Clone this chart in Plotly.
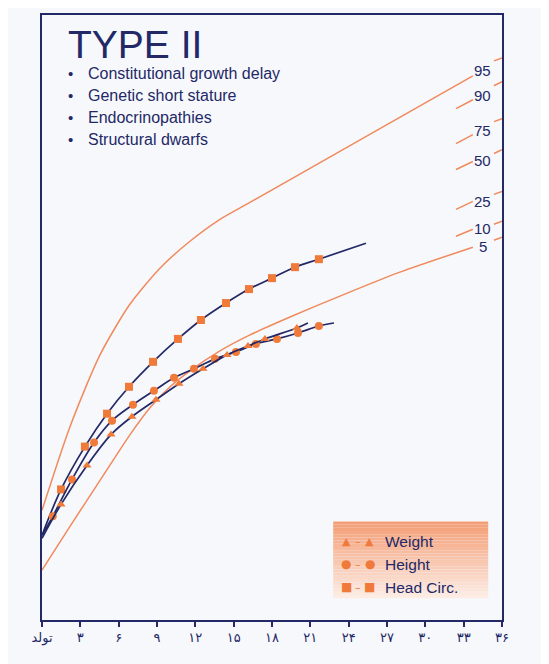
import plotly.graph_objects as go

# ---------------- data ----------------
x_tick_vals = [0, 3, 6, 9, 12, 15, 18, 21, 24, 27, 30, 33, 36]
x_tick_text = ["تولد", "۳", "۶", "۹", "۱۲", "۱۵", "۱۸", "۲۱", "۲۴", "۲۷", "۳۰", "۳۳", "۳۶"]

# percentile reference curves (month, relative size units)
p95_x = [0, 2.19, 4.54, 6.89, 9.23, 11.58, 13.93, 16.28, 23.55, 33.72]
p95_y = [110, 194, 266, 317, 353, 380, 402, 419, 472, 546]
p5_x = [0, 2.19, 4.54, 6.89, 8.45, 10.02, 11.58, 13.93, 16.28, 19.41, 23.32, 28.01, 33.72]
p5_y = [50, 94, 140, 186, 213, 234, 250, 270, 286, 304, 325, 349, 374]

# percentile labels on the right side
pct_labels = ["95", "90", "75", "50", "25", "10", "5"]
pct_label_y = [551, 526, 491, 461, 420, 393, 375]
pct_left_y0 = [None, 513, 478, 452, 412, 385, None]
pct_left_y1 = [None, 522, 487, 460, 420, 392, None]
pct_right_y0 = [561, 536, 500, 468, 427, 397, 381]
pct_right_y1 = [564, 540, 503, 472, 430, 400, 384]

# patient curves: head circumference
head_x = [1.49, 3.36, 5.09, 6.81, 8.69, 10.64, 12.44, 14.40, 16.20, 18.0, 19.8, 21.67]
head_y = [131, 174, 207, 234, 259, 282, 301, 318, 332, 343, 354, 362]
head_start = (0, 85)
head_end = (25.35, 378)

# height
height_x = [0.84, 2.35, 4.07, 5.48, 7.12, 8.76, 10.33, 11.89, 13.54, 15.18, 16.74, 18.39, 20.03, 21.67]
height_y = [104, 141, 178, 200, 216, 230, 243, 252, 262, 269, 277, 282, 288, 295]
height_start = (0, 85)
height_end = (22.85, 298)

# weight
weight_x = [1.49, 3.52, 5.40, 7.04, 8.92, 10.72, 12.60, 14.48, 16.12, 17.45, 19.95]
weight_y = [116, 155, 186, 204, 221, 237, 252, 266, 275, 282, 293]
weight_start = (0, 82)
weight_end = (20.81, 298)

title_text = "TYPE II"
bullets = ["Constitutional growth delay", "Genetic short stature", "Endocrinopathies", "Structural dwarfs"]
legend_names = ["Weight", "Height", "Head Circ."]
legend_symbols = ["▲", "●", "■"]

# ---------------- style ----------------
NAVY = "#232866"
ORANGE_LINE = "#f08a5c"
ORANGE_MK = "#f07a3a"
FONT = "Liberation Sans, Arial, sans-serif"
BG = "#f7f8fc"

fig = go.Figure()

# percentile curves
for xs, ys in [(p95_x, p95_y), (p5_x, p5_y)]:
    fig.add_trace(go.Scatter(x=xs, y=ys, mode="lines",
                             line=dict(color=ORANGE_LINE, width=1.5, shape="spline", smoothing=0.7),
                             hoverinfo="skip", showlegend=False))

# percentile label tick segments
for lab, ly, l0, l1, r0, r1 in zip(pct_labels, pct_label_y, pct_left_y0, pct_left_y1, pct_right_y0, pct_right_y1):
    if l0 is not None:
        fig.add_trace(go.Scatter(x=[32.4, 33.72], y=[l0, l1], mode="lines",
                                 line=dict(color=ORANGE_LINE, width=1.5), hoverinfo="skip", showlegend=False))
    fig.add_trace(go.Scatter(x=[35.37, 36.0], y=[r0, r1], mode="lines",
                             line=dict(color=ORANGE_LINE, width=1.5), hoverinfo="skip", showlegend=False))
    fig.add_annotation(x=34.5, y=ly, text=lab, showarrow=False, xanchor="center", yanchor="middle",
                       font=dict(family=FONT, size=15, color=NAVY))

# patient curves
series = [
    (head_x, head_y, head_start, head_end, "square", 8),
    (height_x, height_y, height_start, height_end, "circle", 8),
    (weight_x, weight_y, weight_start, weight_end, "triangle-up", 8),
]
for xs, ys, st, en, sym, sz in series:
    lx = [st[0]] + xs + [en[0]]
    ly = [st[1]] + ys + [en[1]]
    fig.add_trace(go.Scatter(x=lx, y=ly, mode="lines", line=dict(color=NAVY, width=1.7, shape="spline"),
                             hoverinfo="skip", showlegend=False))
    fig.add_trace(go.Scatter(x=xs, y=ys, mode="markers",
                             marker=dict(symbol=sym, size=sz, color=ORANGE_MK, line=dict(width=0)),
                             hoverinfo="skip", showlegend=False))

# title and bullets
fig.add_annotation(xref="paper", yref="paper", x=0.052, y=0.952, text=title_text, showarrow=False,
                   xanchor="left", yanchor="middle", font=dict(family=FONT, size=39, color=NAVY))
for i, b in enumerate(bullets):
    yy = 0.9028 - i * 0.03625
    fig.add_annotation(xref="paper", yref="paper", x=0.061, y=yy, text="•", showarrow=False,
                       xanchor="center", yanchor="middle", font=dict(family=FONT, size=15, color=NAVY))
    fig.add_annotation(xref="paper", yref="paper", x=0.0957, y=yy, text=b, showarrow=False,
                       xanchor="left", yanchor="middle", font=dict(family=FONT, size=16, color=NAVY))

# legend box with vertical gradient
x0b, x1b, y0b, y1b = 0.633, 0.970, 0.036, 0.163
n = 24
top = (243, 158, 118)
bot = (252, 236, 228)
for i in range(n):
    t = i / (n - 1)
    c = tuple(int(round(top[k] + (bot[k] - top[k]) * t)) for k in range(3))
    ya = y1b - (y1b - y0b) * i / n
    yb = y1b - (y1b - y0b) * (i + 1) / n
    fig.add_shape(type="rect", xref="paper", yref="paper", x0=x0b, x1=x1b, y0=yb, y1=ya,
                  fillcolor="rgb(%d,%d,%d)" % c, line=dict(width=0), layer="below")

sym_sizes = {"▲": 11, "●": 12, "■": 12}
for i, (sym, name) in enumerate(zip(legend_symbols, legend_names)):
    yy = 0.1302 - i * 0.0379
    for xx, txt in [(0.6609, sym), (0.6870, "–"), (0.7130, sym)]:
        fig.add_annotation(xref="paper", yref="paper", x=xx, y=yy, text=txt, showarrow=False,
                           xanchor="center", yanchor="middle",
                           font=dict(family="DejaVu Sans", size=sym_sizes.get(txt, 11), color=ORANGE_MK))
    fig.add_annotation(xref="paper", yref="paper", x=0.7413, y=yy, text=name, showarrow=False,
                       xanchor="left", yanchor="middle", font=dict(family=FONT, size=15.5, color=NAVY))

# page body has an 8px margin, so the figure is sized/margined to land the frame where the reference has it
fig.update_layout(
    width=541, height=656,
    margin=dict(l=34, r=47, t=5, b=44),
    paper_bgcolor=BG, plot_bgcolor=BG,
    showlegend=False,
)
fig.update_xaxes(range=[0, 36], tickvals=x_tick_vals, ticktext=x_tick_text, ticks="outside", ticklen=5,
                 tickcolor=NAVY, tickwidth=1.5, showline=True, linecolor=NAVY, linewidth=1.5, mirror=True,
                 showgrid=False, zeroline=False, tickfont=dict(family="DejaVu Sans", size=13, color=NAVY))
fig.update_yaxes(range=[0, 607], showticklabels=False, ticks="", showline=True, linecolor=NAVY, linewidth=1.5,
                 mirror=True, showgrid=False, zeroline=False)

fig.write_html("out.html")
